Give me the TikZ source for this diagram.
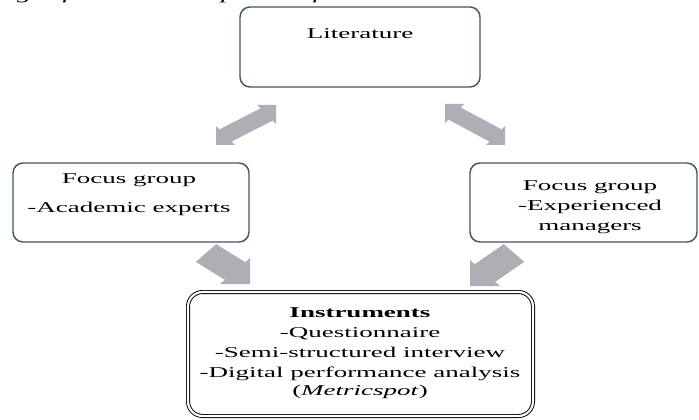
\documentclass[tikz,border=0pt]{standalone}
\usepackage{fontspec}
\setmainfont{Liberation Serif}[FakeStretch=1.8]
\usetikzlibrary{calc}

\definecolor{boxline}{HTML}{44546A}
\definecolor{arrowgrey}{HTML}{ADAFB4}

% single block arrow: tail centre, tip, head leg x, head leg y, shaft inset
\newcommand{\blockarrow}[5]{%
  \path ($(#2)+(#3,0)$) coordinate (ha) ($(#2)+(0,#4)$) coordinate (hb)
        ($(ha)!#5!(hb)$) coordinate (pa) ($(hb)!#5!(ha)$) coordinate (pb)
        ($(ha)!0.5!(hb)$) coordinate (hm);
  \fill[arrowgrey] (#2) -- (ha) -- (pa) -- ($(pa)-(hm)+(#1)$)
        -- ($(pb)-(hm)+(#1)$) -- (pb) -- (hb) -- cycle;}

% double block arrow: tip A, tip B, head leg x and y at B, shaft inset
\newcommand{\twowayarrow}[5]{%
  \path ($(#2)+(#3,0)$) coordinate (hb1) ($(#2)+(0,#4)$) coordinate (hb2)
        ($(#1)-(#3,0)$) coordinate (ha1) ($(#1)-(0,#4)$) coordinate (ha2)
        ($(hb1)!#5!(hb2)$) coordinate (pb1) ($(hb2)!#5!(hb1)$) coordinate (pb2)
        ($(ha1)!#5!(ha2)$) coordinate (pa1) ($(ha2)!#5!(ha1)$) coordinate (pa2);
  \fill[arrowgrey] (#2) -- (hb1) -- (pb1) -- (pa2) -- (ha2) -- (#1)
        -- (ha1) -- (pa1) -- (pb2) -- (hb2) -- cycle;}

\tikzset{
  roundbox/.style={draw=boxline, line width=1.1pt, rounded corners=7.5pt,
    fill=white, inner sep=0pt},
  instbox/.style={draw=black, double=white, double distance=1.6pt,
    line width=0.7pt, rounded corners=11pt, inner sep=0pt},
  txt/.style={font=\fontsize{11.25}{15}\selectfont, align=center,
    inner sep=0pt},
}

\begin{document}
\begin{tikzpicture}[x=0.75pt, y=-0.75pt]
\useasboundingbox (0,0) rectangle (699,420);

% caption line running off the top edge
\node[font=\fontsize{12}{15}\selectfont\itshape, anchor=base west,
  inner sep=0pt] (caption) at (-20,-0.5)
  {Stages for the development of the instruments};

% boxes
\node[roundbox, minimum width=240*0.75pt, minimum height=80*0.75pt]
  (lit) at (360,47) {};
\node[roundbox, minimum width=236*0.75pt, minimum height=79*0.75pt]
  (fgl) at (131,202.5) {};
\node[roundbox, minimum width=227*0.75pt, minimum height=79*0.75pt]
  (fgr) at (583.5,202.5) {};
\node[instbox, minimum width=345*0.75pt, minimum height=124*0.75pt]
  (inst) at (360.5,354) {};

% box texts
\node[txt, anchor=base] (littext) at (360,39) {Literature};
\node[txt, anchor=north] (fgltext) at (129,173)
  {Focus group\\[7pt]-Academic experts};
\node[txt, anchor=north] (fgrtext) at (590,180) {Focus group\\-Experienced\\managers};
\node[txt, anchor=north] (insttext) at (360,307)
  {\textbf{Instruments}\\-Questionnaire\\-Semi-structured interview\\
   -Digital performance analysis\\[-1.5pt](\textit{Metricspot})};

% arrow end points
\coordinate (ulA) at (216,145);
\coordinate (ulB) at (276,105);
\coordinate (urA) at (505,145);
\coordinate (urB) at (445,104);
\coordinate (dlTail) at (206,253);
\coordinate (dlTip) at (250,284);
\coordinate (drTail) at (514,253);
\coordinate (drTip) at (470,286);

% literature <-> focus groups
\twowayarrow{ulA}{ulB}{-19}{19}{0.18}
\twowayarrow{urA}{urB}{19}{19}{0.18}
% focus groups -> instruments
\blockarrow{dlTail}{dlTip}{-30}{-26}{0.16}
\blockarrow{drTail}{drTip}{30}{-26}{0.16}
\end{tikzpicture}
\end{document}
